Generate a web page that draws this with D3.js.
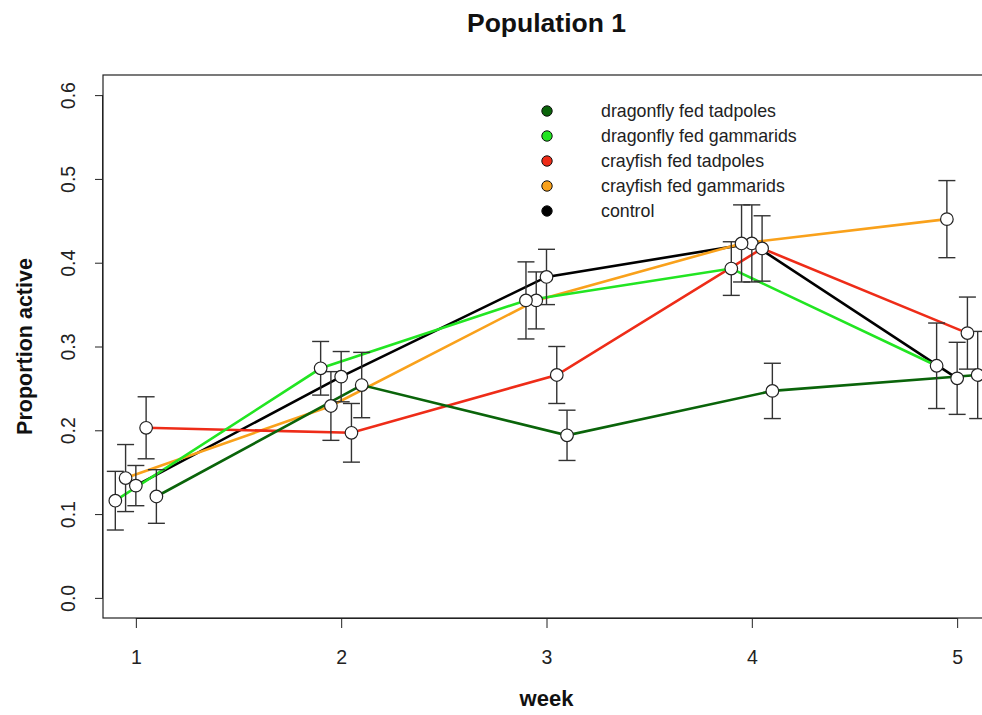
<!DOCTYPE html>
<html><head><meta charset="utf-8">
<script src="https://cdn.jsdelivr.net/npm/d3@7"></script>
<style>body{margin:0;background:#fff}svg{display:block;font-family:"Liberation Sans",Arial,sans-serif}</style>
</head><body><svg id="c" width="982" height="715"></svg>
<script>
const weeks = [1, 2, 3, 4, 5];
const seriesNames = ["dragonfly fed tadpoles", "dragonfly fed gammarids", "crayfish fed tadpoles", "crayfish fed gammarids", "control"];
const seriesColors = ["#0a640a", "#22e522", "#ee2c18", "#f9a11b", "#000000"];
const seriesOffsets = [0.1, -0.1, 0.05, -0.05, 0];
const dragonflyTadpoles = [0.121, 0.254, 0.194, 0.247, 0.266];
const dragonflyTadpolesSE = [0.032, 0.039, 0.030, 0.033, 0.052];
const dragonflyGammarids = [0.116, 0.274, 0.355, 0.393, 0.277];
const dragonflyGammaridsSE = [0.035, 0.032, 0.046, 0.032, 0.051];
const crayfishTadpoles = [0.203, 0.197, 0.266, 0.417, 0.316];
const crayfishTadpolesSE = [0.037, 0.035, 0.034, 0.039, 0.043];
const crayfishGammarids = [0.143, 0.229, 0.355, 0.423, 0.452];
const crayfishGammaridsSE = [0.040, 0.041, 0.034, 0.046, 0.046];
const control = [0.134, 0.264, 0.383, 0.423, 0.262];
const controlSE = [0.024, 0.030, 0.033, 0.046, 0.043];
const yTicks = [0, 0.1, 0.2, 0.3, 0.4, 0.5, 0.6];
const xTicks = [1, 2, 3, 4, 5];

const values = [dragonflyTadpoles, dragonflyGammarids, crayfishTadpoles, crayfishGammarids, control];
const ses = [dragonflyTadpolesSE, dragonflyGammaridsSE, crayfishTadpolesSE, crayfishGammaridsSE, controlSE];

const svg = d3.select("#c");
const L = 103, R = 990, T = 75, B = 618;
const x = d3.scaleLinear().domain([0.84, 5.16]).range([L, R]);
const y = d3.scaleLinear().domain([-0.024, 0.624]).range([B, T]);

// box
svg.append("rect").attr("x", L).attr("y", T).attr("width", R - L).attr("height", B - T)
  .attr("fill", "none").attr("stroke", "#222").attr("stroke-width", 1.2);

// axes
const yAxis = svg.append("g").attr("transform", `translate(${L},0)`)
  .call(d3.axisLeft(y).tickValues(yTicks).tickFormat(d3.format(".1f")).tickSize(8).tickPadding(0));
yAxis.select(".domain").attr("d", `M-0.5,${y(0)}V${y(0.6)}`).attr("stroke", "#222");
yAxis.selectAll(".tick line").attr("stroke", "#222");
yAxis.selectAll(".tick text").attr("transform", "rotate(-90)").attr("x", 0).attr("y", -35)
  .attr("dy", "0.35em").attr("text-anchor", "middle").style("font-size", "19.5px").attr("fill", "#222")
  .attr("font-family", "Liberation Sans, Arial, sans-serif");

const xAxis = svg.append("g").attr("transform", `translate(0,${B})`)
  .call(d3.axisBottom(x).tickValues(xTicks).tickFormat(d3.format("d")).tickSize(10).tickPadding(22));
xAxis.select(".domain").attr("d", `M${x(1)},0.5H${x(5)}`).attr("stroke", "#222");
xAxis.selectAll(".tick line").attr("stroke", "#222");
xAxis.selectAll(".tick text").style("font-size", "19.5px").attr("fill", "#222")
  .attr("font-family", "Liberation Sans, Arial, sans-serif");

// title & labels
svg.append("text").attr("x", (L + R) / 2).attr("y", 32).attr("text-anchor", "middle")
  .style("font-size", "26.5px").style("font-weight", "bold").attr("fill", "#111").text("Population 1");
svg.append("text").attr("x", (L + R) / 2).attr("y", 706).attr("text-anchor", "middle")
  .style("font-size", "22px").style("font-weight", "bold").attr("fill", "#111").text("week");
svg.append("text").attr("transform", `translate(32,${(T + B) / 2}) rotate(-90)`).attr("text-anchor", "middle")
  .style("font-size", "21.5px").style("font-weight", "bold").attr("fill", "#111").text("Proportion active");

const drawOrder = [4, 3, 2, 1, 0];
const line = d3.line().x(d => x(d.w)).y(d => y(d.v));
const pts = values.map((vals, i) => vals.map((v, j) => ({ w: weeks[j] + seriesOffsets[i], v, se: ses[i][j] })));

const plot = svg.append("g");
drawOrder.forEach(i => {
  plot.append("path").datum(pts[i]).attr("d", line).attr("fill", "none")
    .attr("stroke", seriesColors[i]).attr("stroke-width", 2.6);
});
drawOrder.forEach(i => {
  const g = plot.append("g").attr("stroke", "#333").attr("stroke-width", 1.4).attr("fill", "none");
  pts[i].forEach(d => {
    const cx = x(d.w), y1 = y(d.v + d.se), y2 = y(d.v - d.se);
    g.append("line").attr("x1", cx).attr("x2", cx).attr("y1", y1).attr("y2", y2);
    g.append("line").attr("x1", cx - 8.5).attr("x2", cx + 8.5).attr("y1", y1).attr("y2", y1);
    g.append("line").attr("x1", cx - 8.5).attr("x2", cx + 8.5).attr("y1", y2).attr("y2", y2);
  });
});
drawOrder.forEach(i => {
  plot.append("g").selectAll("circle").data(pts[i]).join("circle")
    .attr("cx", d => x(d.w)).attr("cy", d => y(d.v)).attr("r", 6.3)
    .attr("fill", "#fff").attr("stroke", "#222").attr("stroke-width", 1.2);
});

// legend
const lg = svg.append("g");
seriesNames.forEach((n, i) => {
  const yy = 111 + i * 25;
  lg.append("circle").attr("cx", 547).attr("cy", yy).attr("r", 5.2)
    .attr("fill", seriesColors[i]).attr("stroke", "#111").attr("stroke-width", 1);
  lg.append("text").attr("x", 601).attr("y", yy).attr("dy", "0.35em")
    .style("font-size", "17.8px").attr("fill", "#222").text(n);
});
</script></body></html>
